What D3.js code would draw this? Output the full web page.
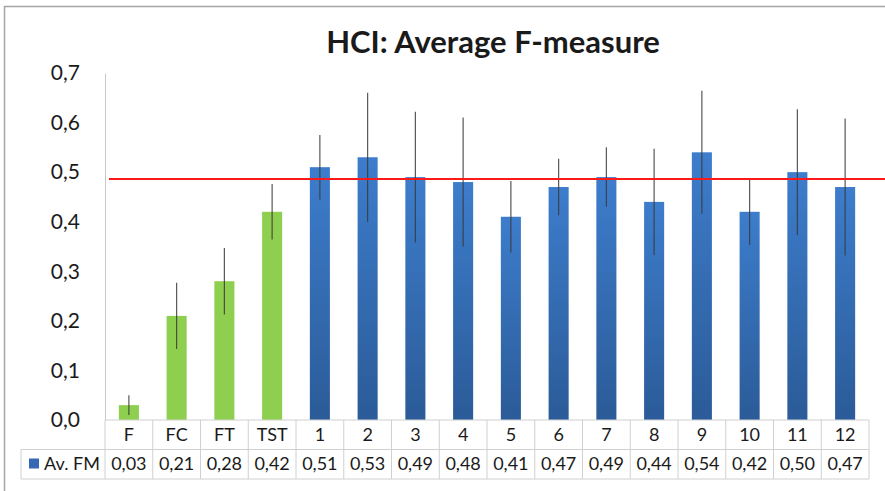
<!DOCTYPE html>
<html>
<head>
<meta charset="utf-8">
<script src="https://cdn.jsdelivr.net/npm/d3@7"></script>
<style>
  body { margin: 0; background: #fff; }
  text { font-family: Lato, "Open Sans", sans-serif; fill: #1a1a1a; }
</style>
</head>
<body>
<div id="chart"></div>
<script>
// data
const categories = ["F", "FC", "FT", "TST", "1", "2", "3", "4", "5", "6", "7", "8", "9", "10", "11", "12"];
const values = [0.03, 0.21, 0.28, 0.42, 0.51, 0.53, 0.49, 0.48, 0.41, 0.47, 0.49, 0.44, 0.54, 0.42, 0.50, 0.47];
const errors = [0.02, 0.067, 0.067, 0.056, 0.065, 0.13, 0.132, 0.13, 0.072, 0.057, 0.06, 0.107, 0.124, 0.067, 0.127, 0.138];
const baselineGroup = ["F", "FC", "FT", "TST"];   // green bars
const yTicks = [0, 0.1, 0.2, 0.3, 0.4, 0.5, 0.6, 0.7];
const refLine = 0.486;
const seriesName = "Av. FM";

const W = 885, H = 491;
const plot = {left: 105, right: 869, top: 73, bottom: 420};
const rowH = 29.5;

const svg = d3.select("#chart").append("svg")
  .attr("width", W)
  .attr("height", H);

// outer frame (top + left only visible)
svg.append("path")
  .attr("d", `M4.5,${H} V6.5 H${W}`)
  .attr("fill", "none")
  .attr("stroke", "#a6a6a6")
  .attr("stroke-width", 1.5);

const defs = svg.append("defs");
const grad = defs.append("linearGradient")
  .attr("id", "blueGrad")
  .attr("x1", 0).attr("y1", 0).attr("x2", 0).attr("y2", 1);
grad.append("stop").attr("offset", "0%").attr("stop-color", "#3d7dcc");
grad.append("stop").attr("offset", "100%").attr("stop-color", "#2b5b98");

const x = d3.scaleBand()
  .domain(categories)
  .range([plot.left, plot.right])
  .paddingInner(0.58)
  .paddingOuter(0.29);

const y = d3.scaleLinear()
  .domain([0, 0.7])
  .range([plot.bottom, plot.top]);

// title
svg.append("text")
  .attr("x", 493)
  .attr("y", 53)
  .attr("text-anchor", "middle")
  .style("font-size", "31px")
  .style("font-weight", "bold")
  .text("HCI: Average F-measure");

// y axis
const yAxis = svg.append("g")
  .attr("transform", `translate(${plot.left},0)`)
  .call(d3.axisLeft(y).tickValues(yTicks).tickSize(0).tickPadding(25)
    .tickFormat(d => d3.format(".1f")(d).replace(".", ",")));
yAxis.select(".domain").attr("stroke", "#c8c8c8");
yAxis.selectAll("text")
  .style("font-size", "21px")
  .style("font-family", "Lato, 'Open Sans', sans-serif")
  .attr("fill", "#1a1a1a");

// bars
svg.selectAll("rect.bar")
  .data(categories)
  .join("rect")
  .attr("class", "bar")
  .attr("x", d => x(d))
  .attr("y", (d, i) => y(values[i]))
  .attr("width", x.bandwidth())
  .attr("height", (d, i) => y(0) - y(values[i]))
  .attr("fill", d => baselineGroup.includes(d) ? "#8fcf4f" : "url(#blueGrad)");

// error bars
svg.selectAll("line.err")
  .data(categories)
  .join("line")
  .attr("class", "err")
  .attr("x1", d => x(d) + x.bandwidth() / 2)
  .attr("x2", d => x(d) + x.bandwidth() / 2)
  .attr("y1", (d, i) => y(values[i] + errors[i]))
  .attr("y2", (d, i) => y(values[i] - errors[i]))
  .attr("stroke", "#3a3a3a")
  .attr("stroke-opacity", 0.85)
  .attr("stroke-width", 1.2);

// red reference line
svg.append("line")
  .attr("x1", 109)
  .attr("x2", W)
  .attr("y1", y(refLine))
  .attr("y2", y(refLine))
  .attr("stroke", "#ff1a1a")
  .attr("stroke-width", 2);

// data table
const table = svg.append("g");
const gridColor = "#d0d0d0";
const step = x.step();
const colLeft = d => x(d) - x.paddingInner() * step / 2;
const tableTop = plot.bottom, midLine = plot.bottom + rowH, tableBottom = plot.bottom + 2 * rowH;
const legendLeft = 21;

table.append("line")
  .attr("x1", plot.left).attr("x2", plot.right)
  .attr("y1", tableTop).attr("y2", tableTop)
  .attr("stroke", gridColor);
table.append("line")
  .attr("x1", legendLeft).attr("x2", plot.right)
  .attr("y1", midLine).attr("y2", midLine)
  .attr("stroke", gridColor);
table.append("line")
  .attr("x1", legendLeft).attr("x2", plot.right)
  .attr("y1", tableBottom).attr("y2", tableBottom)
  .attr("stroke", gridColor);
table.append("line")
  .attr("x1", legendLeft).attr("x2", legendLeft)
  .attr("y1", midLine).attr("y2", tableBottom)
  .attr("stroke", gridColor);
table.append("line")
  .attr("x1", plot.left).attr("x2", plot.left)
  .attr("y1", tableTop).attr("y2", tableBottom)
  .attr("stroke", gridColor);

table.selectAll("line.col")
  .data(categories)
  .join("line")
  .attr("class", "col")
  .attr("x1", d => colLeft(d) + step)
  .attr("x2", d => colLeft(d) + step)
  .attr("y1", tableTop)
  .attr("y2", tableBottom)
  .attr("stroke", gridColor);

table.selectAll("text.cat")
  .data(categories)
  .join("text")
  .attr("class", "cat")
  .attr("x", d => x(d) + x.bandwidth() / 2)
  .attr("y", tableTop + 21)
  .attr("text-anchor", "middle")
  .style("font-size", "18px")
  .text(d => d);

table.selectAll("text.val")
  .data(categories)
  .join("text")
  .attr("class", "val")
  .attr("x", d => x(d) + x.bandwidth() / 2)
  .attr("y", midLine + 20)
  .attr("text-anchor", "middle")
  .style("font-size", "18px")
  .text((d, i) => d3.format(".2f")(values[i]).replace(".", ","));

// legend key
table.append("rect")
  .attr("x", 29).attr("y", midLine + 9)
  .attr("width", 10).attr("height", 10)
  .attr("fill", "#3569b3");
table.append("text")
  .attr("x", 44)
  .attr("y", midLine + 20)
  .style("font-size", "18px")
  .text(seriesName);
</script>
</body>
</html>
